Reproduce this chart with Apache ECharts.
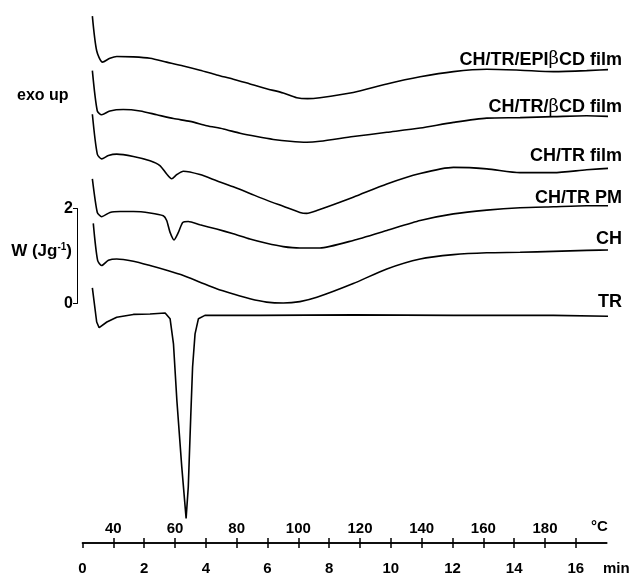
<!DOCTYPE html>
<html><head><meta charset="utf-8">
<script src="https://cdn.jsdelivr.net/npm/echarts@6/dist/echarts.min.js"></script>
<style>html,body{margin:0;padding:0;background:#fff}#c{width:634px;height:578px}</style>
</head><body><div id="c"></div>
<script>
// Series names (top to bottom)
const seriesNames = ['CH/TR/EPIβCD film', 'CH/TR/βCD film', 'CH/TR film', 'CH/TR PM', 'CH', 'TR'];

// DSC curves: [temperature (°C), heat flow W (J/g, vertically shifted as plotted)]
const epiFilm = [[33.2,6.06],[34.6,5.33],[36.5,5.09],[38.9,5.17],[41.1,5.21],[46.5,5.2],[51.9,5.17],[57.3,5.09],[62.7,5.01],[68.1,4.92],[73.5,4.82],[78.9,4.73],[84.3,4.63],[89.7,4.53],[95.1,4.44],[99.5,4.34],[103,4.32],[107,4.34],[117.8,4.45],[128.7,4.63],[139.5,4.78],[150.3,4.89],[161.1,4.94],[171.9,4.92],[182.7,4.89],[193.5,4.91],[202.7,4.94]];
const bcdFilm = [[33.2,4.91],[34.8,4.06],[36.2,3.98],[38.9,4.06],[43.2,4.09],[48.7,4.06],[54.1,3.98],[59.5,3.9],[64.9,3.84],[70.3,3.75],[75.7,3.68],[81.1,3.59],[86.5,3.52],[91.9,3.46],[97.3,3.42],[102.7,3.4],[107,3.42],[117.8,3.52],[128.7,3.61],[139.5,3.7],[150.3,3.82],[161.1,3.91],[171.9,3.92],[182.7,3.94],[193.5,3.96],[202.7,3.94]];
const trFilm = [[33.2,3.99],[34.8,3.15],[36.2,3.05],[38.4,3.12],[41.1,3.15],[46.5,3.1],[51.9,3.01],[55.1,2.91],[57.3,2.73],[58.9,2.63],[60.6,2.72],[62.7,2.79],[68.1,2.72],[73.5,2.59],[78.9,2.46],[84.3,2.32],[89.7,2.18],[95.1,2.05],[100.5,1.92],[102.7,1.9],[106,1.96],[117.8,2.24],[128.7,2.52],[139.5,2.74],[150.3,2.87],[161.1,2.84],[171.9,2.76],[182.7,2.76],[193.5,2.82],[202.7,2.86]];
const trPM = [[33.2,2.63],[34.8,1.92],[36.2,1.83],[38.9,1.92],[42.2,1.94],[46.5,1.94],[51.9,1.91],[56.2,1.85],[57.3,1.75],[58.4,1.5],[59.7,1.34],[61.1,1.5],[62.5,1.71],[64.3,1.73],[68.1,1.66],[73.5,1.57],[78.9,1.47],[84.3,1.36],[89.7,1.27],[95.1,1.2],[100.5,1.17],[107,1.17],[117.8,1.33],[128.7,1.54],[139.5,1.75],[150.3,1.89],[161.1,1.97],[171.9,2.02],[182.7,2.04],[193.5,2.06],[202.7,2.06]];
const ch = [[33.5,1.69],[34.9,0.91],[36.2,0.8],[38.4,0.91],[41.1,0.94],[46.5,0.89],[51.9,0.8],[57.3,0.7],[62.7,0.59],[68.1,0.45],[73.5,0.31],[78.9,0.2],[84.3,0.1],[89.7,0.03],[95.1,0.01],[100.5,0.04],[106,0.13],[117.8,0.42],[128.7,0.73],[139.5,0.94],[150.3,1.03],[161.1,1.07],[171.9,1.08],[182.7,1.1],[193.5,1.12],[202.7,1.13]];
const tr = [[33.2,0.33],[34.6,-0.39],[35.4,-0.51],[37.9,-0.39],[41.1,-0.29],[46.5,-0.23],[51.9,-0.22],[56.8,-0.2],[58.4,-0.32],[59.5,-0.85],[60.6,-2.04],[62.2,-3.45],[63.6,-4.53],[64.3,-3.87],[65.1,-2.39],[65.7,-1.34],[66.5,-0.64],[67.6,-0.32],[69.7,-0.25],[87.6,-0.25],[117.8,-0.24],[150.3,-0.25],[182.7,-0.25],[202.7,-0.27]];

// Axis ticks / labels
const tempTickValues = [40,50,60,70,80,90,100,110,120,130,140,150,160,170,180,190];
const tempLabelValues = [40,60,80,100,120,140,160,180];
const timeTickValues = [0,1,2,3,4,5,6,7,8,9,10,11,12,13,14,15,16];
const timeLabelValues = [0,2,4,6,8,10,12,14,16];
const scaleLabelValues = [0,2];

const curves = [epiFilm, bcdFilm, trFilm, trPM, ch, tr];
const smoothing = [0.25, 0.25, 0.25, 0.2, 0.25, false];
const labelShift = [-1, 0, -3, 1, -2, -5];

const FONT = '"Liberation Sans", Arial, sans-serif';
const rich = {
  n: {fontSize: 18, fontWeight: 'bold', fontFamily: FONT, color: '#000'},
  b: {fontSize: 18, fontWeight: 'normal', fontFamily: '"DejaVu Serif", serif', color: '#000'}
};
function richName(name) {
  return name.split('β').map(s => s ? '{n|' + s + '}' : '').join('{b|β}');
}

const chart = echarts.init(document.getElementById('c'), null, {renderer: 'canvas'});
const boldLabel = {fontSize: 15, fontWeight: 'bold', fontFamily: FONT, color: '#000'};
const axisLineStyle = {color: '#000', width: 1.5};

chart.setOption({
  animation: false,
  backgroundColor: '#fff',
  title: {text: 'exo up', left: 17, top: 88, padding: 0,
    textStyle: {fontSize: 16, fontWeight: 'bold', fontFamily: FONT, color: '#000'}},
  grid: [
    {left: 82.5, right: 27.3, top: 0, bottom: 35},
    {left: 77, top: 208.5, width: 1, height: 95}
  ],
  xAxis: [
    {gridIndex: 0, type: 'value', min: 30, max: 200, position: 'bottom',
      axisLine: {show: true, onZero: false, lineStyle: axisLineStyle},
      axisTick: {show: true, inside: true, length: 5, customValues: tempTickValues, lineStyle: axisLineStyle},
      axisLabel: Object.assign({inside: true, margin: 7, customValues: tempLabelValues}, boldLabel),
      splitLine: {show: false}},
    {gridIndex: 0, type: 'value', min: 0, max: 17, position: 'bottom',
      axisLine: {show: true, onZero: false, lineStyle: axisLineStyle},
      axisTick: {show: true, inside: false, length: 5, customValues: timeTickValues, lineStyle: axisLineStyle},
      axisLabel: Object.assign({margin: 18, customValues: timeLabelValues}, boldLabel),
      splitLine: {show: false}},
    {gridIndex: 1, type: 'value', min: 0, max: 1, show: false, axisLine: {onZero: false}}
  ],
  yAxis: [
    {gridIndex: 0, type: 'value', min: -5.05, max: 6.4, show: false, axisLine: {onZero: false}},
    {gridIndex: 1, type: 'value', min: 0, max: 2, interval: 2, position: 'left',
      axisLine: {show: true, onZero: false, lineStyle: {color: '#000', width: 1}},
      axisTick: {show: true, length: 4, lineStyle: {color: '#000', width: 1}},
      axisLabel: {margin: 4, customValues: scaleLabelValues, fontSize: 16, fontWeight: 'bold', fontFamily: FONT, color: '#000'},
      splitLine: {show: false},
      name: '{a|W (Jg}{s|-1}{a|)}', nameLocation: 'middle', nameRotate: 0, nameGap: 5,
      nameMoveOverlap: false,
      nameTextStyle: {padding: [0, 0, 9, 0], rich: {
        a: {fontSize: 17, fontWeight: 'bold', fontFamily: FONT, color: '#000'},
        s: {fontSize: 10, fontWeight: 'bold', fontFamily: FONT, color: '#000', padding: [0, 0, 8, 0]}
      }}}
  ],
  graphic: [
    {type: 'text', x: 603, y: 569, style: {text: 'min', font: 'bold 15px "Liberation Sans", Arial', fill: '#000', align: 'left', verticalAlign: 'middle'}},
    {type: 'text', x: 591, y: 527, style: {text: '°C', font: 'bold 15px "Liberation Sans", Arial', fill: '#000', align: 'left', verticalAlign: 'middle'}}
  ],
  series: curves.map((d, i) => ({
    type: 'line', name: seriesNames[i], data: d, xAxisIndex: 0, yAxisIndex: 0,
    showSymbol: false, symbol: 'none', smooth: smoothing[i], clip: false, silent: true,
    lineStyle: {color: '#000', width: 1.6},
    endLabel: {show: true, formatter: richName(seriesNames[i]), rich: rich,
      align: 'right', verticalAlign: 'bottom', distance: 0, offset: [14, labelShift[i]]}
  }))
});
</script>
</body></html>
